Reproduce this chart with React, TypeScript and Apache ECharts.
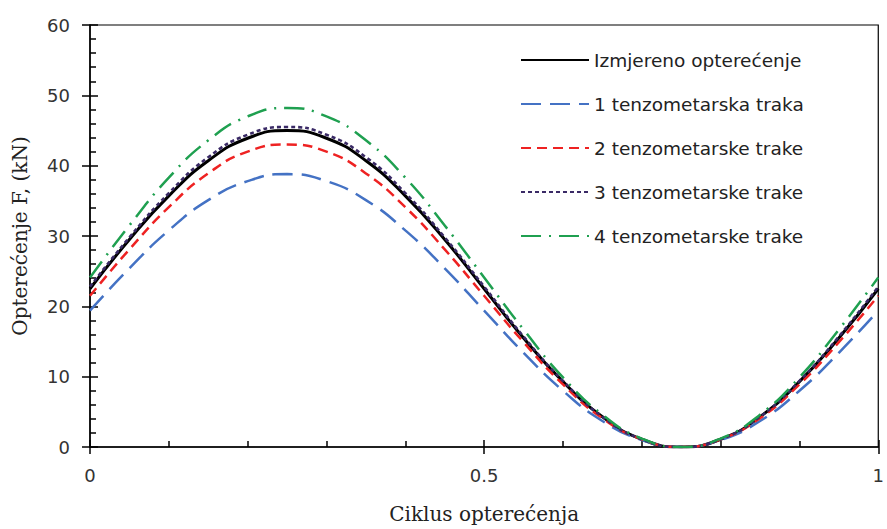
import React, { useEffect, useRef } from "react";
import * as echarts from "echarts";

const xValues = [0, 0.05, 0.1, 0.15, 0.2, 0.25, 0.3, 0.35, 0.4, 0.45, 0.5, 0.55, 0.6, 0.65, 0.7, 0.75, 0.8, 0.85, 0.9, 0.95, 1];
const measured = [22.5, 29.5, 35.7, 40.7, 43.9, 45.0, 43.9, 40.7, 35.7, 29.5, 22.5, 15.5, 9.3, 4.3, 1.1, 0, 1.1, 4.3, 9.3, 15.5, 22.5];
const gauge1 = [19.4, 25.4, 30.8, 35.1, 37.8, 38.8, 37.8, 35.1, 30.8, 25.4, 19.4, 13.4, 8.0, 3.7, 1.0, 0, 1.0, 3.7, 8.0, 13.4, 19.4];
const gauge2 = [21.5, 28.1, 34.1, 38.9, 42.0, 43.0, 42.0, 38.9, 34.1, 28.1, 21.5, 14.9, 8.9, 4.1, 1.1, 0, 1.1, 4.1, 8.9, 14.9, 21.5];
const gauge3 = [22.8, 29.8, 36.1, 41.2, 44.4, 45.5, 44.4, 41.2, 36.1, 29.8, 22.8, 15.7, 9.4, 4.3, 1.1, 0, 1.1, 4.3, 9.4, 15.7, 22.8];
const gauge4 = [24.1, 31.5, 38.3, 43.6, 47.0, 48.2, 47.0, 43.6, 38.3, 31.5, 24.1, 16.7, 9.9, 4.6, 1.2, 0, 1.2, 4.6, 9.9, 16.7, 24.1];

const seriesNames = [
  "Izmjereno opterećenje",
  "1 tenzometarska traka",
  "2 tenzometarske trake",
  "3 tenzometarske trake",
  "4 tenzometarske trake",
];
const xTickLabels: Record<string, string> = { "0": "0", "0.5": "0.5", "1": "1" };

const pairs = (ys: number[]) => xValues.map((x, i) => [x, ys[i]]);

const SANS = "DejaVu Sans";
const SERIF = "DejaVu Serif";

export default function App() {
  const ref = useRef<HTMLDivElement>(null);
  useEffect(() => {
    if (!ref.current) return;
    const chart = echarts.init(ref.current, undefined, { renderer: "svg" });
    const styles = [
      { color: "#000000", type: "solid" as any, width: 3 },
      { color: "#4472C4", type: [20, 9], width: 2.5 },
      { color: "#EE2222", type: [10, 6], width: 2.5 },
      { color: "#3A2A66", type: [4, 3], width: 2.6 },
      { color: "#1FA050", type: [20, 8, 2, 8], width: 2.5 },
    ];
    const data = [measured, gauge1, gauge2, gauge3, gauge4];
    chart.setOption({
      animation: false,
      backgroundColor: "#ffffff",
      grid: {
        left: 90,
        top: 25,
        right: 6,
        bottom: 82,
        show: true,
        borderColor: "#000",
        borderWidth: 1.2,
        backgroundColor: "transparent",
      },
      legend: {
        orient: "vertical",
        left: 520,
        top: 50,
        padding: 0,
        itemWidth: 68,
        itemHeight: 14,
        itemGap: 24,
        data: seriesNames,
        itemStyle: { opacity: 0 },
        textStyle: { fontFamily: SANS, fontSize: 18.5, color: "#222", lineHeight: 20 },
      },
      xAxis: [
        {
          type: "value",
          min: 0,
          max: 1,
          interval: 0.5,
          position: "bottom",
          name: "Ciklus opterećenja",
          nameLocation: "middle",
          nameGap: 57,
          nameTextStyle: { fontFamily: SERIF, fontSize: 20, color: "#222" },
          axisLine: { show: true, lineStyle: { color: "#000", width: 1.5 } },
          axisTick: { show: true, inside: true, length: 7, lineStyle: { color: "#000", width: 1.5 } },
          minorTick: { show: true, splitNumber: 5, length: 6, lineStyle: { color: "#000", width: 1.5 } },
          splitLine: { show: false },
          axisLabel: {
            margin: 19,
            fontFamily: SANS,
            fontSize: 18,
            color: "#333",
            formatter: (v: number) => xTickLabels[String(v)] ?? "",
          },
        },
        {
          type: "value",
          min: 0,
          max: 1,
          interval: 0.5,
          position: "bottom",
          axisLine: { show: false },
          axisTick: { show: true, inside: false, length: 7, lineStyle: { color: "#000", width: 1.5 } },
          axisLabel: { show: false },
          splitLine: { show: false },
        },
      ],
      yAxis: [
        {
          type: "value",
          min: 0,
          max: 60,
          interval: 10,
          position: "left",
          name: "Opterećenje F, (kN)",
          nameLocation: "middle",
          nameGap: 60,
          nameTextStyle: { fontFamily: SERIF, fontSize: 20, color: "#222" },
          axisLine: { show: true, lineStyle: { color: "#000", width: 1.5 } },
          axisTick: { show: true, inside: true, length: 8, lineStyle: { color: "#000", width: 1.5 } },
          minorTick: { show: true, splitNumber: 5, length: 6, lineStyle: { color: "#000", width: 1.5 } },
          splitLine: { show: false },
          axisLabel: { margin: 20, fontFamily: SANS, fontSize: 18, color: "#333" },
        },
        {
          type: "value",
          min: 0,
          max: 60,
          interval: 10,
          position: "left",
          axisLine: { show: false },
          axisTick: { show: true, inside: false, length: 8, lineStyle: { color: "#000", width: 1.5 } },
          axisLabel: { show: false },
          splitLine: { show: false },
        },
      ],
      series: data.map((d, i) => ({
        name: seriesNames[i],
        type: "line",
        xAxisIndex: 0,
        yAxisIndex: 0,
        data: pairs(d),
        smooth: 0.5,
        symbol: "none",
        lineStyle: { color: styles[i].color, type: styles[i].type, width: styles[i].width },
        itemStyle: { color: styles[i].color },
      })),
    });
    return () => chart.dispose();
  }, []);
  return <div ref={ref} style={{ width: 887, height: 529, position: "absolute", left: 0, top: 0 }} />;
}
